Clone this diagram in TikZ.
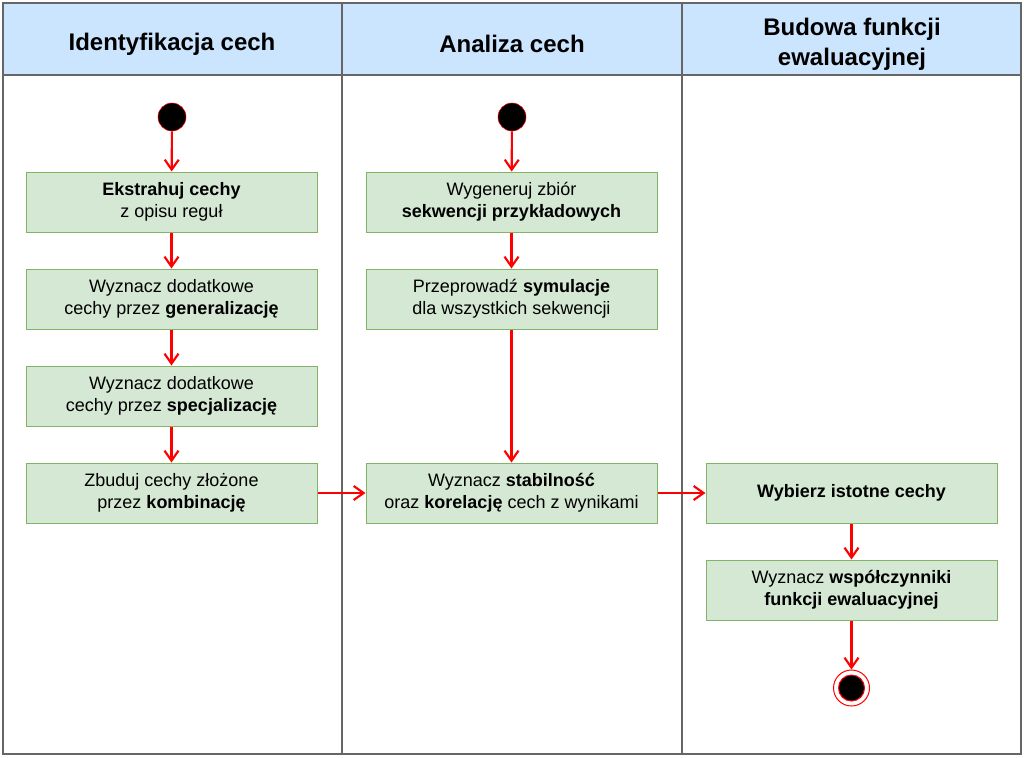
\documentclass[tikz,border=0pt]{standalone}
\usepackage{fontspec}
\setmainfont{Liberation Sans}
\usetikzlibrary{arrows.meta}
\definecolor{laneblue}{HTML}{CCE5FF}
\definecolor{actgreen}{HTML}{D5E8D4}
\definecolor{actborder}{HTML}{82B366}
\definecolor{flowred}{HTML}{FF0000}
\definecolor{lanegray}{HTML}{666666}
\begin{document}
\begin{tikzpicture}[x=0.75pt,y=-0.75pt,
    action/.style={draw=actborder, fill=actgreen, line width=0.75pt,
        minimum width=218.25pt, minimum height=45pt, inner sep=0pt,
        align=center, font=\fontsize{13.5}{16.5}\selectfont},
    lanehead/.style={align=center, font=\fontsize{18}{22.5}\selectfont\bfseries},
    startdot/.style={circle, draw=flowred, fill=black, minimum size=21pt, inner sep=0pt},
    flow/.style={draw=flowred, line width=1.6pt, -{Straight Barb[length=7.5pt,width=10.5pt]}}]
    \useasboundingbox (0,0) rectangle (1024,757);
    % Swimlanes
    \fill[laneblue] (3,3) rectangle (1021,75);
    \draw[lanegray, line width=1.5pt] (3,3) rectangle (1021,754);
    \draw[lanegray, line width=1.5pt] (3,75) -- (1021,75);
    \draw[lanegray, line width=1.5pt] (342,3) -- (342,754);
    \draw[lanegray, line width=1.5pt] (682,3) -- (682,754);
    \node[lanehead] (head1) at (172,44) {Identyfikacja cech};
    \node[lanehead] (head2) at (512,44) {Analiza cech};
    \node[lanehead] (head3) at (852,44) {Budowa funkcji\\ewaluacyjnej};

    % Identyfikacja cech
    \node[startdot] (start1) at (172,117) {};
    \node[action] (a1) at (171.5,202) {\textbf{Ekstrahuj cechy}\\z opisu reguł};
    \node[action] (a2) at (171.5,299) {Wyznacz dodatkowe\\cechy przez \textbf{generalizację}};
    \node[action] (a3) at (171.5,396) {Wyznacz dodatkowe\\cechy przez \textbf{specjalizację}};
    \node[action] (a4) at (171.5,493) {Zbuduj cechy złożone\\przez \textbf{kombinację}};

    % Analiza cech
    \node[startdot] (start2) at (512,117) {};
    \node[action] (b1) at (511.5,202) {Wygeneruj zbiór\\\textbf{sekwencji przykładowych}};
    \node[action] (b2) at (511.5,299) {Przeprowadź \textbf{symulacje}\\dla wszystkich sekwencji};
    \node[action] (b3) at (511.5,493) {Wyznacz \textbf{stabilność}\\oraz \textbf{korelację} cech z wynikami};

    % Budowa funkcji ewaluacyjnej
    \node[action] (c1) at (851.5,493) {\textbf{Wybierz istotne cechy}};
    \node[action] (c2) at (851.5,590) {Wyznacz \textbf{współczynniki}\\\textbf{funkcji ewaluacyjnej}};
    \node[circle, draw=flowred, fill=white, line width=0.75pt, minimum size=27pt, inner sep=0pt] (finish) at (851.5,688) {};
    \node[circle, draw=flowred, fill=black, line width=0.75pt, minimum size=19.5pt, inner sep=0pt] (finishdot) at (finish.center) {};

    % Przeplyw
    \draw[flow] (start1) -- (a1);
    \draw[flow] (a1) -- (a2);
    \draw[flow] (a2) -- (a3);
    \draw[flow] (a3) -- (a4);
    \draw[flow] (a4) -- (b3);
    \draw[flow] (start2) -- (b1);
    \draw[flow] (b1) -- (b2);
    \draw[flow] (b2) -- (b3);
    \draw[flow] (b3) -- (c1);
    \draw[flow] (c1) -- (c2);
    \draw[flow] (c2) -- (finish);
\end{tikzpicture}
\end{document}
